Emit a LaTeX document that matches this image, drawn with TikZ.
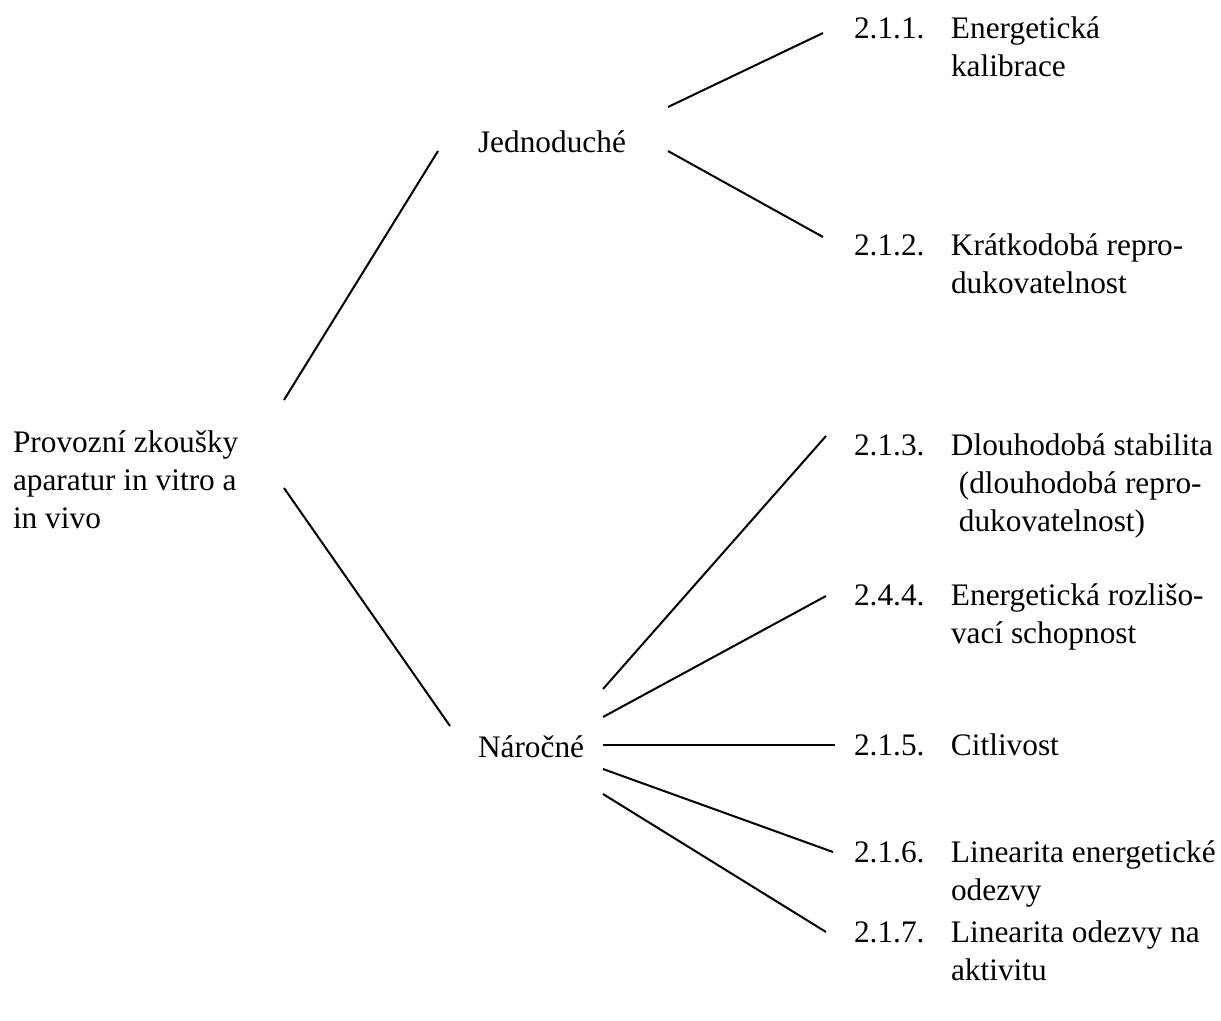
\documentclass[tikz,border=0pt]{standalone}
\usepackage{fontspec}
\setmainfont{Liberation Serif}

\tikzset{every picture/.style={line width=1.5pt}}
\tikzset{lbl/.style={anchor=base west, inner sep=0pt, font=\fontsize{23.5}{28.7}\selectfont}}
\newcommand{\cislo}[1]{\makebox[72.75pt][l]{#1}}

\begin{document}
\begin{tikzpicture}[x=0.75pt,y=0.75pt,yscale=-1,xscale=1]
\useasboundingbox (0,0) rectangle (1221,1021);

% Text Node
\draw (12,452) node [lbl] (root) {\begin{tabular}[t]{@{}l@{}}Provozní zkoušky\\aparatur in vitro a\\in vivo\end{tabular}};
% Text Node
\draw (477,152) node [lbl] (jedn) {Jednoduché};
% Text Node
\draw (477,757) node [lbl] (naroc) {Náročné};
% Text Node
\draw (853,38) node [lbl] (n211) {\begin{tabular}[t]{@{}l@{}l@{}}\cislo{2.1.1.} & Energetická\\ & kalibrace\end{tabular}};
% Text Node
\draw (853,255) node [lbl] (n212) {\begin{tabular}[t]{@{}l@{}l@{}}\cislo{2.1.2.} & Krátkodobá repro-\\ & dukovatelnost\end{tabular}};
% Text Node
\draw (853,455) node [lbl] (n213) {\begin{tabular}[t]{@{}l@{}l@{}}\cislo{2.1.3.} & Dlouhodobá stabilita\\ & \ (dlouhodobá repro-\\ & \ dukovatelnost)\end{tabular}};
% Text Node
\draw (853,605) node [lbl] (n244) {\begin{tabular}[t]{@{}l@{}l@{}}\cislo{2.4.4.} & Energetická rozlišo-\\ & vací schopnost\end{tabular}};
% Text Node
\draw (853,755) node [lbl] (n215) {\begin{tabular}[t]{@{}l@{}l@{}}\cislo{2.1.5.} & Citlivost\end{tabular}};
% Text Node
\draw (853,862) node [lbl] (n216) {\begin{tabular}[t]{@{}l@{}l@{}}\cislo{2.1.6.} & Linearita energetické\\ & odezvy\end{tabular}};
% Text Node
\draw (853,942) node [lbl] (n217) {\begin{tabular}[t]{@{}l@{}l@{}}\cislo{2.1.7.} & Linearita odezvy na\\ & aktivitu\end{tabular}};

%Straight Lines
\draw ([shift={(272,-52)}]root.base west) -- ([shift={(-39,-1)}]jedn.base west) ;
%Straight Lines
\draw ([shift={(272,36)}]root.base west) -- ([shift={(-27,-31)}]naroc.base west) ;
%Straight Lines
\draw ([shift={(191,-45)}]jedn.base west) -- ([shift={(-30,-5)}]n211.base west) ;
%Straight Lines
\draw ([shift={(191,-1)}]jedn.base west) -- ([shift={(-30,-18)}]n212.base west) ;
%Straight Lines
\draw ([shift={(126,-68)}]naroc.base west) -- ([shift={(-27,-19)}]n213.base west) ;
%Straight Lines
\draw ([shift={(126,-40)}]naroc.base west) -- ([shift={(-27,-9)}]n244.base west) ;
%Straight Lines
\draw ([shift={(126,-12)}]naroc.base west) -- ([shift={(-18,-10)}]n215.base west) ;
%Straight Lines
\draw ([shift={(126,12)}]naroc.base west) -- ([shift={(-20,-10)}]n216.base west) ;
%Straight Lines
\draw ([shift={(126,37)}]naroc.base west) -- ([shift={(-27,-10)}]n217.base west) ;

\end{tikzpicture}
\end{document}
